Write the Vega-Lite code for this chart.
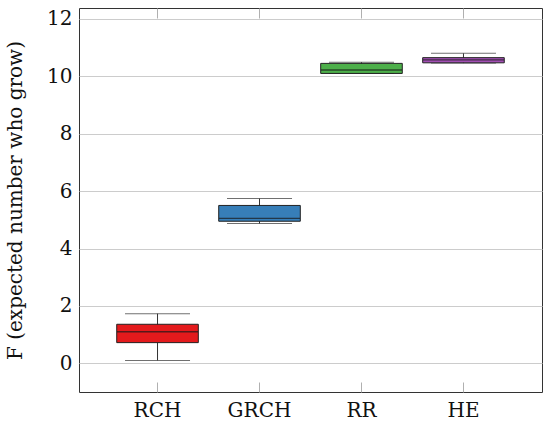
{
  "$schema": "https://vega.github.io/schema/vega-lite/v6.json",
  "width": 463,
  "height": 384,
  "autosize": "none",
  "padding": {"left": 79, "top": 8, "right": 8, "bottom": 31},
  "background": "white",
  "config": {
    "font": "DejaVu Serif",
    "view": {"stroke": "#333333", "strokeWidth": 1},
    "axis": {
      "labelFont": "DejaVu Serif",
      "titleFont": "DejaVu Serif",
      "labelFontSize": 20,
      "titleFontSize": 20,
      "labelColor": "#111111",
      "titleColor": "#111111",
      "titleFontWeight": "normal",
      "domain": false
    }
  },
  "data": {
    "values": [
      {"method": "RCH", "lower": 0.10, "q1": 0.72, "median": 1.10, "q3": 1.36, "upper": 1.73},
      {"method": "GRCH", "lower": 4.87, "q1": 4.95, "median": 5.05, "q3": 5.50, "upper": 5.74},
      {"method": "RR", "lower": 10.10, "q1": 10.10, "median": 10.22, "q3": 10.45, "upper": 10.49},
      {"method": "HE", "lower": 10.46, "q1": 10.47, "median": 10.57, "q3": 10.65, "upper": 10.80}
    ]
  },
  "resolve": {"axis": {"x": "independent"}},
  "layer": [
    {
      "mark": {"type": "rule", "color": "#333333", "strokeWidth": 1},
      "encoding": {
        "x": {
          "field": "method",
          "type": "nominal",
          "sort": ["RCH", "GRCH", "RR", "HE"],
          "scale": {"paddingInner": 0.2, "paddingOuter": 0.37},
          "axis": {
            "orient": "bottom",
            "title": null,
            "labelAngle": 0,
            "labelPadding": 18,
            "ticks": true,
            "tickSize": -10,
            "tickColor": "#b0b0b0",
            "grid": false
          }
        },
        "y": {
          "field": "lower",
          "type": "quantitative",
          "scale": {"domain": [-1, 12.38], "nice": false, "zero": false},
          "axis": {
            "title": "F (expected number who grow)",
            "values": [0, 2, 4, 6, 8, 10, 12],
            "grid": true,
            "gridColor": "#cccccc",
            "ticks": false,
            "labelPadding": 7,
            "titlePadding": 21
          }
        },
        "y2": {"field": "upper"}
      }
    },
    {
      "mark": {"type": "tick", "size": 65, "thickness": 1, "color": "#333333"},
      "encoding": {
        "x": {
          "field": "method",
          "type": "nominal",
          "sort": ["RCH", "GRCH", "RR", "HE"],
          "axis": {
            "orient": "top",
            "title": null,
            "labels": false,
            "ticks": true,
            "tickSize": -10,
            "tickColor": "#b0b0b0",
            "grid": false
          }
        },
        "y": {"field": "lower", "type": "quantitative"}
      }
    },
    {
      "mark": {"type": "tick", "size": 65, "thickness": 1, "color": "#333333"},
      "encoding": {
        "x": {"field": "method", "type": "nominal", "sort": ["RCH", "GRCH", "RR", "HE"], "axis": null},
        "y": {"field": "upper", "type": "quantitative"}
      }
    },
    {
      "mark": {"type": "bar", "stroke": "#222222", "strokeWidth": 1},
      "encoding": {
        "x": {"field": "method", "type": "nominal", "sort": ["RCH", "GRCH", "RR", "HE"], "axis": null},
        "y": {"field": "q1", "type": "quantitative"},
        "y2": {"field": "q3"},
        "color": {
          "field": "method",
          "type": "nominal",
          "sort": ["RCH", "GRCH", "RR", "HE"],
          "scale": {"range": ["#e41a1c", "#377eb8", "#4daf4a", "#a24fb4"]},
          "legend": null
        }
      }
    },
    {
      "mark": {"type": "tick", "size": 81, "thickness": 1.3, "color": "#1a1a1a"},
      "encoding": {
        "x": {"field": "method", "type": "nominal", "sort": ["RCH", "GRCH", "RR", "HE"], "axis": null},
        "y": {"field": "median", "type": "quantitative"}
      }
    }
  ]
}
